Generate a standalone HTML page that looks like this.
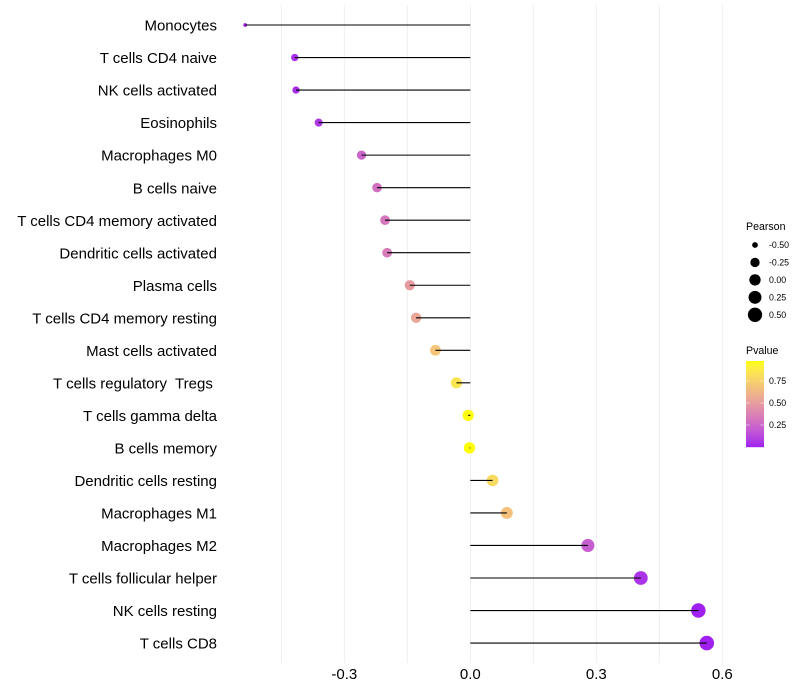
<!DOCTYPE html>
<html>
<head>
<meta charset="utf-8">
<title>Pearson lollipop chart</title>
<style>
html,body{margin:0;padding:0;background:#fff;width:800px;height:700px;overflow:hidden}
svg{display:block;font-family:"Liberation Sans",sans-serif}
</style>
</head>
<body>
<svg id="chart" xmlns="http://www.w3.org/2000/svg" width="800" height="700" viewBox="0 0 800 700">
  <rect x="0" y="0" width="800" height="700" fill="#ffffff"/>
  <g id="grid"></g>
  <g id="points"></g>
  <g id="stems"></g>
  <g id="ylabels"></g>
  <g id="xlabels"></g>
  <g id="sizeLegend">
    <text x="746" y="230" font-size="10.6" fill="#000">Pearson</text>
  </g>
  <g id="colorLegend">
    <text x="746" y="354" font-size="10.6" fill="#000">Pvalue</text>
  </g>
</svg>
<script>
const categories = ["Monocytes","T cells CD4 naive","NK cells activated","Eosinophils","Macrophages M0","B cells naive","T cells CD4 memory activated","Dendritic cells activated","Plasma cells","T cells CD4 memory resting","Mast cells activated","T cells regulatory  Tregs ","T cells gamma delta","B cells memory","Dendritic cells resting","Macrophages M1","Macrophages M2","T cells follicular helper","NK cells resting","T cells CD8"];
const pearson = [-0.536,-0.418,-0.415,-0.361,-0.259,-0.222,-0.203,-0.198,-0.144,-0.129,-0.083,-0.033,-0.005,-0.002,0.053,0.087,0.28,0.406,0.543,0.563];
const pvalue = [0.01,0.05,0.05,0.08,0.25,0.3,0.33,0.35,0.5,0.55,0.7,0.85,0.97,0.98,0.8,0.68,0.22,0.06,0.01,0.01];
const xTicks = [-0.3,0,0.3,0.6];
const xTickLabels = ["-0.3","0.0","0.3","0.6"];
const xGrid = [-0.45,-0.3,-0.15,0,0.15,0.3,0.45,0.6];
const sizeBreaks = [-0.5,-0.25,0,0.25,0.5];
const sizeBreakLabels = ["-0.50","-0.25","0.00","0.25","0.50"];
const colorBreaks = [0.75,0.5,0.25];
const colorBreakLabels = ["0.75","0.50","0.25"];

const NS = "http://www.w3.org/2000/svg";
function make(tag, attrs, parent){
  const el = document.createElementNS(NS, tag);
  for (const k in attrs) el.setAttribute(k, attrs[k]);
  parent.appendChild(el);
  return el;
}
function xScale(v){ return 470.3 + v * 420; }
function yScale(i){ return 25 + i * 32.53; }
function sizeScale(v){
  const lo = Math.min.apply(null, pearson), hi = Math.max.apply(null, pearson);
  const t = Math.max(0, Math.min(1, (v - lo) / (hi - lo)));
  return 1.9 + (7.3 - 1.9) * Math.sqrt(t);
}
function colorBarY(p){ return 447 - p * 88; }

function toLab(c){
  const f = c.map(function(u){ u /= 255; return u > 0.04045 ? Math.pow((u + 0.055) / 1.055, 2.4) : u / 12.92; });
  const X = (0.4124 * f[0] + 0.3576 * f[1] + 0.1805 * f[2]) / 0.95047;
  const Y = 0.2126 * f[0] + 0.7152 * f[1] + 0.0722 * f[2];
  const Z = (0.0193 * f[0] + 0.1192 * f[1] + 0.9505 * f[2]) / 1.08883;
  const g = function(t){ return t > 0.008856 ? Math.cbrt(t) : 7.787 * t + 16 / 116; };
  return [116 * g(Y) - 16, 500 * (g(X) - g(Y)), 200 * (g(Y) - g(Z))];
}
function fromLab(l){
  const fy = (l[0] + 16) / 116, fx = fy + l[1] / 500, fz = fy - l[2] / 200;
  const g = function(t){ return t * t * t > 0.008856 ? t * t * t : (t - 16 / 116) / 7.787; };
  const X = g(fx) * 0.95047, Y = g(fy), Z = g(fz) * 1.08883;
  const r = [3.2406 * X - 1.5372 * Y - 0.4986 * Z, -0.9689 * X + 1.8758 * Y + 0.0415 * Z, 0.0557 * X - 0.204 * Y + 1.057 * Z];
  const c = r.map(function(u){
    const v = u > 0.0031308 ? 1.055 * Math.pow(u, 1 / 2.4) - 0.055 : 12.92 * u;
    return Math.round(Math.max(0, Math.min(1, v)) * 255);
  });
  return "rgb(" + c.join(",") + ")";
}
const labLow = toLab([160, 32, 240]);
const labHigh = toLab([255, 255, 0]);
function colorAt(t){
  return fromLab(labLow.map(function(a, i){ return a + (labHigh[i] - a) * t; }));
}
function colorScale(p){
  const lo = Math.min.apply(null, pvalue), hi = Math.max.apply(null, pvalue);
  return colorAt(Math.max(0, Math.min(1, (p - lo) / (hi - lo))));
}

const gridG = document.getElementById("grid");
xGrid.forEach(function(v){
  const l = make("line", {x1: xScale(v), x2: xScale(v), y1: 5, y2: 663, stroke: "#ebebeb", "stroke-width": 0.8}, gridG);
  
  
});

const pointsG = document.getElementById("points");
const stemsG = document.getElementById("stems");
const yG = document.getElementById("ylabels");
categories.forEach(function(name, i){
  const y = yScale(i);
  const c = make("circle", {cx: xScale(pearson[i]), cy: y, r: sizeScale(pearson[i]), fill: colorScale(pvalue[i])}, pointsG);
  
  
  const s = make("line", {x1: xScale(0), x2: xScale(pearson[i]), y1: y, y2: y, stroke: "#000", "stroke-width": 1.1}, stemsG);
  
  
  const t = make("text", {x: 217, y: y + 5.6, "text-anchor": "end", "font-size": 15, fill: "#000"}, yG);
  
  
  t.style.whiteSpace = "pre";
  t.textContent = name;
});

const xG = document.getElementById("xlabels");
xTicks.forEach(function(v, i){
  const t = make("text", {x: xScale(v), y: 679, "text-anchor": "middle", "font-size": 15, fill: "#000"}, xG);
  
  
  t.textContent = xTickLabels[i];
});

const sizeG = document.getElementById("sizeLegend");
sizeBreaks.forEach(function(v, i){
  const y = 245 + i * 17.45;
  const c = make("circle", {cx: 755, cy: y, r: sizeScale(v), fill: "#000"}, sizeG);
  
  
  const t = make("text", {x: 769, y: y + 3, "font-size": 8.8, fill: "#000"}, sizeG);
  
  
  t.textContent = sizeBreakLabels[i];
});

const colorG = document.getElementById("colorLegend");
const barSteps = 86;
for (let k = 0; k < barSteps; k++) {
  const r = make("rect", {x: 746, y: 361 + k, width: 18, height: 1.2, fill: colorAt(1 - (k + 0.5) / barSteps)}, colorG);
  
  
}
colorBreaks.forEach(function(p, i){
  const y = colorBarY(p);
  const a = make("line", {x1: 746, x2: 749.6, y1: y, y2: y, stroke: "#fff", "stroke-width": 0.5}, colorG);
  
  
  const b = make("line", {x1: 760.4, x2: 764, y1: y, y2: y, stroke: "#fff", "stroke-width": 0.5}, colorG);
  
  
  const t = make("text", {x: 769, y: y + 3, "font-size": 8.8, fill: "#000"}, colorG);
  
  
  t.textContent = colorBreakLabels[i];
});
</script>
</body>
</html>
